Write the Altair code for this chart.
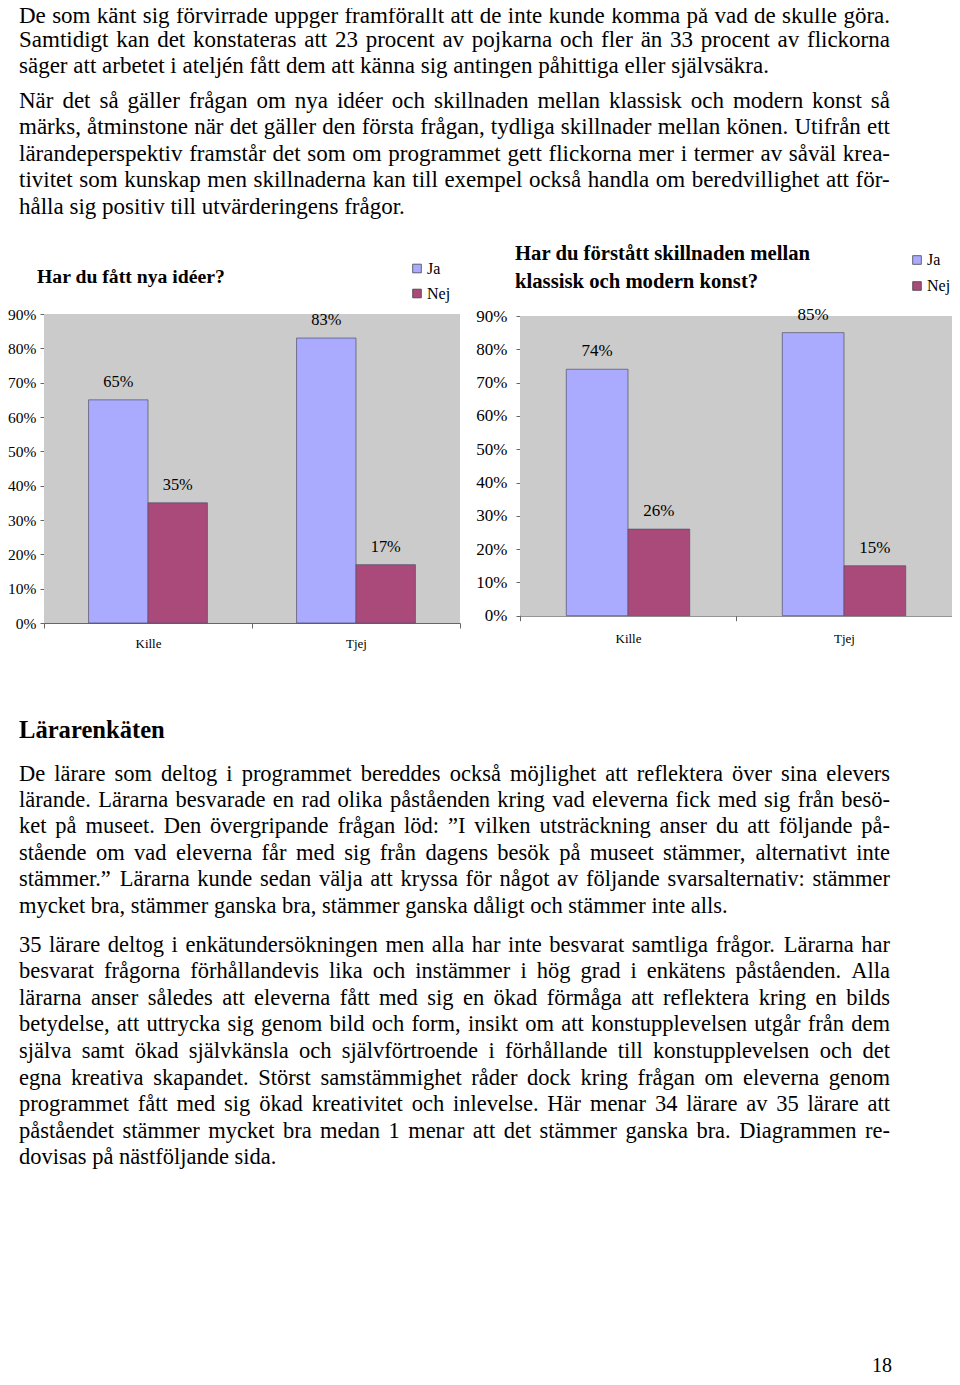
import altair as alt
import pandas as pd

# ---------------- data ----------------
groups = ["Kille", "Tjej"]
answers = ["Ja", "Nej"]
ideas_ja = [0.65, 0.83]
ideas_nej = [0.35, 0.17]
art_ja = [0.74, 0.85]
art_nej = [0.26, 0.15]
pct_ticks = [0.0, 0.1, 0.2, 0.3, 0.4, 0.5, 0.6, 0.7, 0.8, 0.9]

title_ideas = ["Har du fått nya idéer?"]
title_art = ["Har du förstått skillnaden mellan", "klassisk och modern konst?"]

para_top1 = [
    "De som känt sig förvirrade uppger framförallt att de inte kunde komma på vad de skulle göra.",
    "Samtidigt kan det konstateras att 23 procent av pojkarna och fler än 33 procent av flickorna",
    "säger att arbetet i ateljén fått dem att känna sig antingen påhittiga eller självsäkra.",
]
para_top2 = [
    "När det så gäller frågan om nya idéer och skillnaden mellan klassisk och modern konst så",
    "märks, åtminstone när det gäller den första frågan, tydliga skillnader mellan könen. Utifrån ett",
    "lärandeperspektiv framstår det som om programmet gett flickorna mer i termer av såväl krea-",
    "tivitet som kunskap men skillnaderna kan till exempel också handla om beredvillighet att för-",
    "hålla sig positiv till utvärderingens frågor.",
]
heading = ["Lärarenkäten"]
para_bot1 = [
    "De lärare som deltog i programmet bereddes också möjlighet att reflektera över sina elevers",
    "lärande. Lärarna besvarade en rad olika påståenden kring vad eleverna fick med sig från besö-",
    "ket på museet. Den övergripande frågan löd: ”I vilken utsträckning anser du att följande på-",
    "stående om vad eleverna får med sig från dagens besök på museet stämmer, alternativt inte",
    "stämmer.” Lärarna kunde sedan välja att kryssa för något av följande svarsalternativ: stämmer",
    "mycket bra, stämmer ganska bra, stämmer ganska dåligt och stämmer inte alls.",
]
para_bot2 = [
    "35 lärare deltog i enkätundersökningen men alla har inte besvarat samtliga frågor. Lärarna har",
    "besvarat frågorna förhållandevis lika och instämmer i hög grad i enkätens påståenden. Alla",
    "lärarna anser således att eleverna fått med sig en ökad förmåga att reflektera kring en bilds",
    "betydelse, att uttrycka sig genom bild och form, insikt om att konstupplevelsen utgår från dem",
    "själva samt ökad självkänsla och självförtroende i förhållande till konstupplevelsen och det",
    "egna kreativa skapandet. Störst samstämmighet råder dock kring frågan om eleverna genom",
    "programmet fått med sig ökad kreativitet och inlevelse. Här menar 34 lärare av 35 lärare att",
    "påståendet stämmer mycket bra medan 1 menar att det stämmer ganska bra. Diagrammen re-",
    "dovisas på nästföljande sida.",
]
page_no = ["18"]

# ---------------- layout helpers ----------------
M = 8                      # page margin
W, H = 944, 1377           # drawing area (page 8..952, 8..1385)
FONT = "Liberation Serif"
JA_COL, NEJ_COL, BG_COL = "#aaaaff", "#a94a7b", "#cbcbcb"

# Times / Liberation Serif advance widths (1/1000 em)
_w = {}
for c, v in zip("abcdefghijklmnopqrstuvwxyz",
                [444, 500, 444, 500, 444, 333, 500, 500, 278, 278, 500, 278, 778,
                 500, 500, 500, 500, 333, 389, 278, 500, 500, 722, 500, 500, 444]):
    _w[c] = v
for c, v in zip("ABCDEFGHIJKLMNOPQRSTUVWXYZ",
                [722, 667, 667, 722, 611, 556, 722, 722, 333, 389, 722, 611, 889,
                 722, 722, 556, 722, 667, 556, 611, 722, 722, 944, 722, 722, 611]):
    _w[c] = v
_w.update({"å": 444, "ä": 444, "ö": 500, "é": 444, "Å": 722, "Ä": 722, "Ö": 722,
           " ": 250, ".": 250, ",": 250, ":": 278, ";": 278, "-": 333, "?": 444,
           "”": 444, "%": 833})
for d in "0123456789":
    _w[d] = 500


def text_w(s, fs):
    return sum(_w.get(c, 500) for c in s) * fs / 1000.0


def justify(lines, x_left, x_right, ys, fs):
    """Word positions for a justified paragraph (last line left aligned)."""
    rows = []
    for i, line in enumerate(lines):
        words = line.split(" ")
        widths = [text_w(w, fs) for w in words]
        if i == len(lines) - 1 or len(words) == 1:
            gap = 0.25 * fs
        else:
            gap = (x_right - x_left - sum(widths)) / (len(words) - 1)
        x = x_left
        for w, wd in zip(words, widths):
            rows.append({"px": x, "py": ys[i], "t": w})
            x += wd + gap
    return rows


def whole_lines(lines, x_left, ys):
    return [{"px": x_left, "py": ys[i], "t": line} for i, line in enumerate(lines)]


def steps(y0, dy, n):
    return [y0 + i * dy for i in range(n)]


def page_text(rows, fs, bold=False):
    df = pd.DataFrame(rows)
    return alt.Chart(df).mark_text(
        align="left", baseline="alphabetic", font=FONT, fontSize=fs,
        fontWeight="bold" if bold else "normal", color="black"
    ).encode(
        x=alt.X("px:Q", scale=alt.Scale(domain=[M, M + W], range=[0, W], nice=False, zero=False), axis=None),
        y=alt.Y("py:Q", scale=alt.Scale(domain=[M, M + H], range=[0, H], nice=False, zero=False), axis=None),
        text="t:N",
    )


def bar_chart(ja, nej, x0, x1, y_base, y_top, val_fs, ylab_fs, ylab_pad, xlab_pad,
              leg_x, leg_y, leg_row, leg_off):
    df = pd.DataFrame({
        "grp": groups * 2,
        "ans": [answers[0]] * 2 + [answers[1]] * 2,
        "val": ja + nej,
    })
    df["lbl"] = [f"{round(v * 100)}%" for v in df["val"]]

    xs = alt.Scale(domain=groups, range=[x0 - M, x1 - M], paddingInner=0, paddingOuter=0)
    xo = alt.Scale(domain=answers, paddingInner=0, paddingOuter=0.75)
    ys = alt.Scale(domain=[0, 0.9], range=[y_base - M, y_top - M], nice=False, zero=True)
    cs = alt.Scale(domain=answers, range=[JA_COL, NEJ_COL])

    y_axis = alt.Axis(orient="left", offset=-(x0 - M), values=pct_ticks, format=".0%",
                      title=None, grid=False, domainColor="#666", tickColor="#666",
                      tickSize=4, labelFont=FONT, labelFontSize=ylab_fs, labelColor="black",
                      labelPadding=ylab_pad)
    x_axis = alt.Axis(orient="bottom", offset=(y_base - M) - H, title=None, grid=False,
                      tickBand="extent", tickSize=5, labelAngle=0, labelFont=FONT,
                      labelFontSize=13, labelColor="black", labelPadding=xlab_pad,
                      domainColor="#666", tickColor="#666")

    bg = alt.Chart(pd.DataFrame({"k": [0]})).mark_rect(color=BG_COL).encode(
        x=alt.value(x0 - M), x2=alt.value(x1 - M),
        y=alt.Y(datum=0.9, scale=ys, axis=y_axis), y2=alt.datum(0),
    )
    base = alt.Chart(df)
    bars = base.mark_bar(stroke="#505068", strokeWidth=0.7).encode(
        x=alt.X("grp:N", scale=xs, axis=x_axis, sort=groups),
        xOffset=alt.XOffset("ans:N", scale=xo, sort=answers),
        y=alt.Y("val:Q", scale=ys, axis=y_axis),
        color=alt.Color("ans:N", scale=cs, legend=alt.Legend(
            orient="none", legendX=leg_x - M, legendY=leg_y - M, direction="vertical",
            title=None, labelFont=FONT, labelFontSize=16, labelColor="black",
            symbolType="square", symbolSize=75, symbolStrokeColor="#333",
            symbolStrokeWidth=0.7, rowPadding=leg_row, labelOffset=leg_off, padding=0)),
    )
    labels = base.mark_text(baseline="alphabetic", dy=-13, font=FONT, fontSize=val_fs,
                            color="black").encode(
        x=alt.X("grp:N", scale=xs, axis=x_axis, sort=groups),
        xOffset=alt.XOffset("ans:N", scale=xo, sort=answers),
        y=alt.Y("val:Q", scale=ys, axis=y_axis),
        text="lbl:N",
    )
    return alt.layer(bg, bars, labels)


chart_ideas = bar_chart(ideas_ja, ideas_nej, 44, 460, 623, 314, 16.4, 15.5, 4, 9,
                        409, 260.5, 9, 2)
chart_art = bar_chart(art_ja, art_nej, 520, 952, 615.7, 316, 17, 17, 9, 12,
                      909, 252, 10, 2)

# chart titles
t_ideas = page_text(whole_lines(title_ideas, 37, [283]), 19.7, bold=True)
t_art = page_text(whole_lines(title_art, 515, [260, 287.5]), 20.7, bold=True)

# body text
txt_top = page_text(justify(para_top1, 19, 890, [22.5, 46.6, 73.2], 23)
                    + justify(para_top2, 19, 890, steps(107.5, 26.6, 5), 23), 23)
txt_head = page_text(whole_lines(heading, 19, [738]), 24.6, bold=True)
txt_bot = page_text(justify(para_bot1, 19, 890, steps(780.5, 26.45, 6), 22.5)
                    + justify(para_bot2, 19, 890, steps(951.5, 26.6, 9), 22.5), 22.5)
txt_page = page_text(whole_lines(page_no, 872, [1372]), 20)

chart = alt.layer(
    chart_ideas, chart_art, t_ideas, t_art, txt_top, txt_head, txt_bot, txt_page
).resolve_scale(
    x="independent", y="independent", color="independent", xOffset="independent"
).resolve_axis(
    x="independent", y="independent"
).resolve_legend(
    color="independent"
).properties(
    width=W, height=H, autosize=alt.AutoSizeParams(type="none"), padding=0,
    background="white"
).configure_view(
    strokeWidth=0
)

chart.save("out.html", embed_options={"renderer": "svg", "actions": False})
